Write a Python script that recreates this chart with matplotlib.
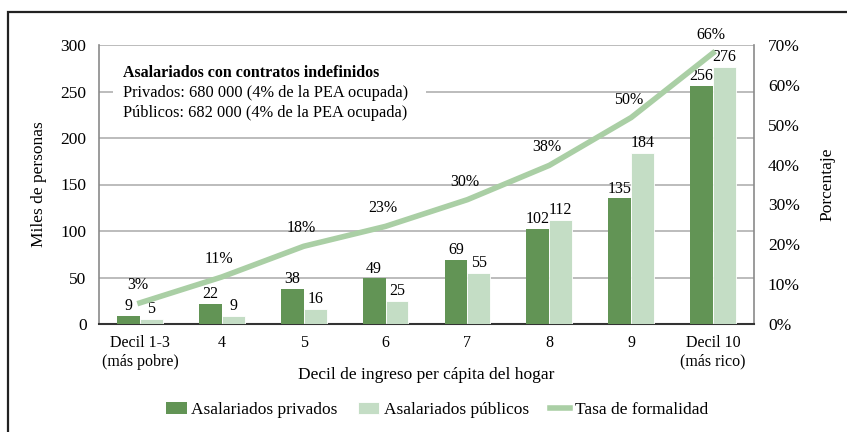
import numpy as np
import matplotlib
matplotlib.use('Agg')
import matplotlib.pyplot as plt
from matplotlib.patches import Rectangle

plt.rcParams['font.family'] = ['Liberation Serif', 'DejaVu Serif']

# datos
deciles = ['Decil 1-3\n(más pobre)', '4', '5', '6', '7', '8', '9', 'Decil 10\n(más rico)']
privados = [9, 22, 38, 49, 69, 102, 135, 256]
publicos = [5, 9, 16, 25, 55, 112, 184, 276]
tasa = [5.3, 11.8, 19.5, 24.5, 31.2, 39.8, 51.8, 68.0]       # posicion de la linea
tasa_etiquetas = [3, 11, 18, 23, 30, 38, 50, 66]               # rotulos publicados
left_ticks = [0, 50, 100, 150, 200, 250, 300]
right_ticks = [0, 10, 20, 30, 40, 50, 60, 70]

c_priv = '#629455'
c_pub = '#c4ddc5'
c_line = '#aacfa5'

fig = plt.figure(figsize=(8.47, 4.32), dpi=100)
ax = fig.add_axes([99 / 847, 1 - 324 / 432, 655 / 847, 279 / 432])
ax2 = ax.twinx()

x = np.arange(len(deciles))
w = 0.28
ax.bar(x - w / 2, privados, w, color=c_priv, label='Asalariados privados', zorder=3)
ax.bar(x + w / 2, publicos, w, color=c_pub, label='Asalariados públicos', zorder=3,
       edgecolor='white', linewidth=0.6)

for xi, v in zip(x, privados):
    ax.text(xi - w / 2, v + 2, str(v), ha='center', va='bottom', fontsize=11.5, zorder=4)
for xi, v in zip(x, publicos):
    ax.text(xi + w / 2, v + 2, str(v), ha='center', va='bottom', fontsize=11.5, zorder=4)

ax.set_xlim(-0.5, len(deciles) - 0.5)
ax.set_ylim(0, 300)
ax.set_yticks(left_ticks)
ax.set_xticks(x)
ax.set_xticklabels(deciles, fontsize=11.5)
ax.tick_params(axis='y', length=0, labelsize=12.5, pad=9)
ax.tick_params(axis='x', length=0, labelsize=11.5, pad=8)
ax.yaxis.grid(True, color='#b0b0b0', linewidth=1.2, zorder=0)
ax.set_axisbelow(True)
for s in ['left', 'right', 'top']:
    ax.spines[s].set_color('#8a8a8a')
    ax.spines[s].set_linewidth(1.2)
ax.spines['top'].set_visible(False)
ax.spines['bottom'].set_color('#333333')
ax.spines['bottom'].set_linewidth(1.5)
ax.set_ylabel('Miles de personas', fontsize=12.5, labelpad=10)
ax.set_xlabel('Decil de ingreso per cápita del hogar', fontsize=12.5, labelpad=-2)

ax2.plot(x, tasa, color=c_line, linewidth=4, label='Tasa de formalidad', zorder=5)
for xi, v, lab in zip(x, tasa, tasa_etiquetas):
    ax2.text(xi - 0.03, v + 4.5, f'{lab}%', ha='center', va='center', fontsize=11.5)
ax2.set_ylim(0, 70)
ax2.set_yticks(right_ticks)
ax2.set_yticklabels([f'{t}%' for t in right_ticks])
ax2.tick_params(axis='y', length=0, labelsize=12.5, pad=10)
for s in ax2.spines.values():
    s.set_visible(False)
ax2.set_ylabel('Porcentaje', fontsize=12.5, labelpad=14)

ax.text(0.037, 0.9, 'Asalariados con contratos indefinidos', transform=ax.transAxes,
        fontsize=11.5, fontweight='bold', va='center', ha='left', zorder=6)
ax.text(0.037, 0.828, 'Privados: 680 000 (4% de la PEA ocupada)', transform=ax.transAxes,
        fontsize=11.8, va='center', ha='left', zorder=6)
ax.text(0.037, 0.756, 'Públicos: 682 000 (4% de la PEA ocupada)', transform=ax.transAxes,
        fontsize=11.8, va='center', ha='left', zorder=6)
ax.add_patch(Rectangle((0.021, 0.71), 0.478, 0.23, transform=ax.transAxes,
                       facecolor='white', edgecolor='none', zorder=1))

h1, l1 = ax.get_legend_handles_labels()
h2, l2 = ax2.get_legend_handles_labels()
fig.legend(h1 + h2, l1 + l2, loc='center', bbox_to_anchor=(437 / 847, 1 - 410 / 432),
           ncol=3, frameon=False, prop={'family': 'Liberation Serif', 'size': 12.5},
           handlelength=1.2, handletextpad=0.25, columnspacing=1.2)

fig.patches.append(Rectangle((8 / 847, -0.1), 1.2, 1.1 - 12 / 432, transform=fig.transFigure,
                             fill=False, edgecolor='#222222', linewidth=1.6))

fig.savefig('out.png', dpi=100)
